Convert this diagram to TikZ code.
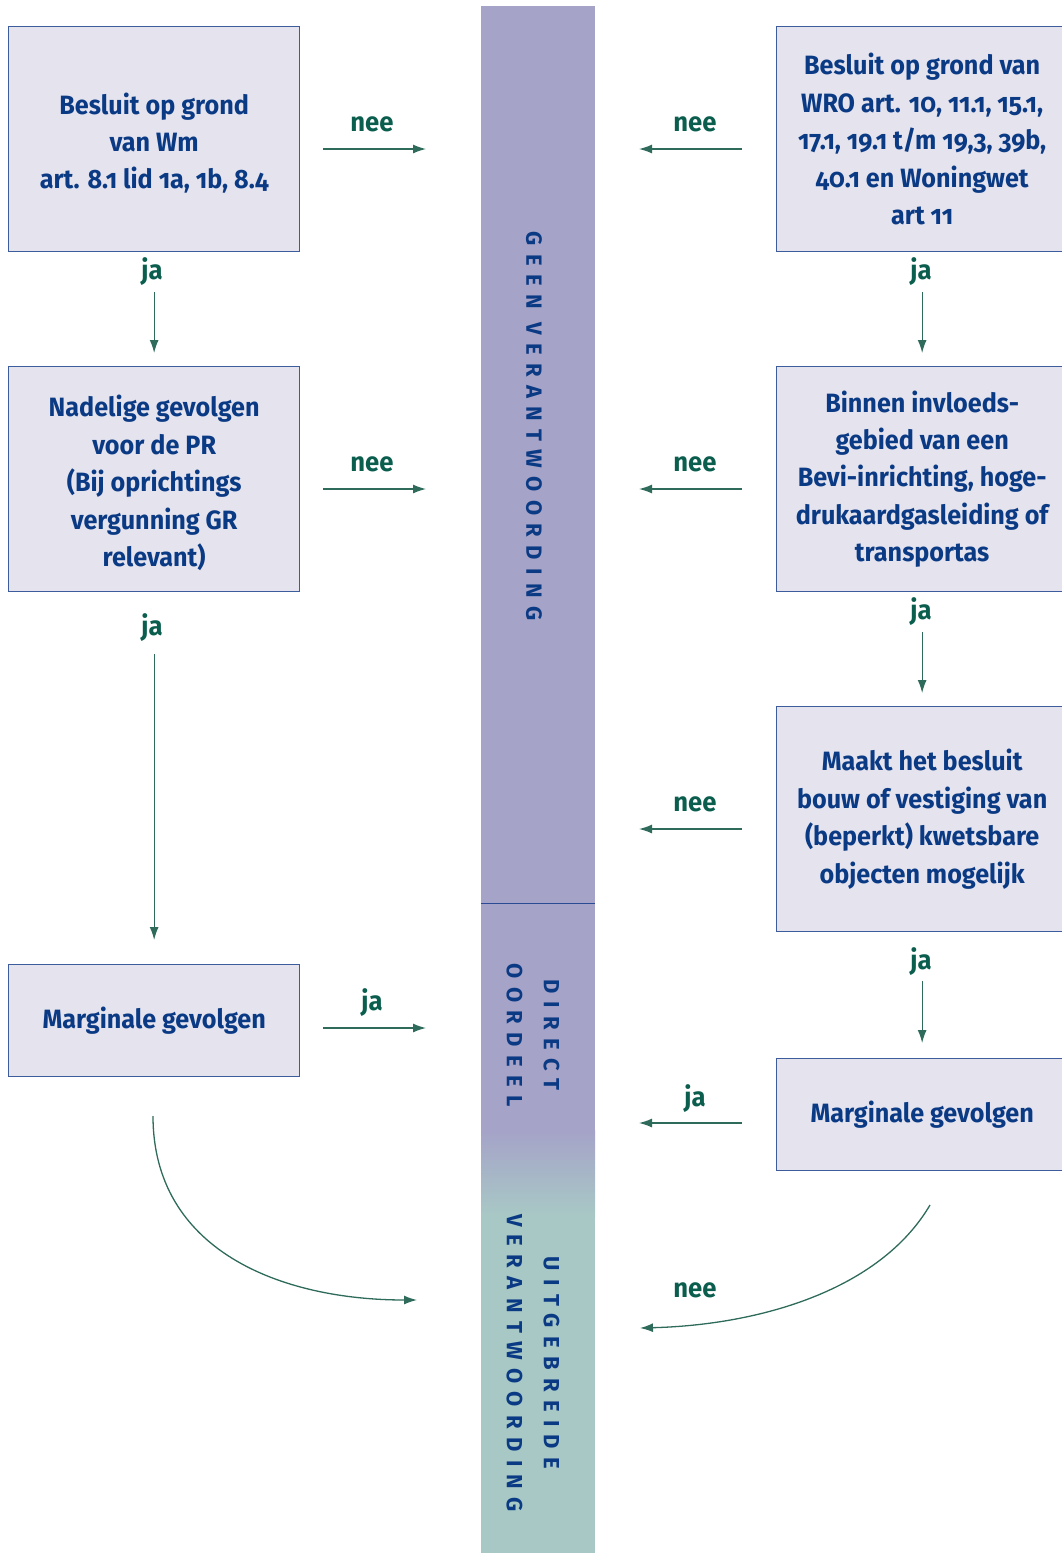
\documentclass[tikz,border=0pt]{standalone}
\usepackage{fontspec}
\setmainfont{Fira Sans}[Numbers=OldStyle, FakeStretch=0.95]
\newfontfamily\barfont{Fira Sans}[LetterSpace=38]
\usetikzlibrary{arrows.meta}
\definecolor{boxfill}{HTML}{E4E3EE}
\definecolor{boxdraw}{HTML}{3C5C9C}
\definecolor{textblue}{HTML}{0B3A84}
\definecolor{labgreen}{HTML}{0B5E4E}
\definecolor{arrowgreen}{HTML}{2E6B5B}
\definecolor{barpurple}{HTML}{A5A3C8}
\definecolor{barteal}{HTML}{A8C8C5}
\definecolor{divider}{HTML}{2B4A95}
\begin{document}
\begin{tikzpicture}[x=1pt,y=-1pt,
  box/.style={draw=boxdraw, line width=1.3pt, fill=boxfill, text=textblue,
    font=\fontsize{26.5}{37.4}\selectfont\bfseries, align=center,
    minimum width=291pt, inner sep=0pt, anchor=north west},
  tallbox/.style={box, minimum height=225pt},
  lowbox/.style={box, minimum height=112pt},
  lab/.style={text=labgreen, font=\fontsize{27}{30}\selectfont\bfseries, inner sep=0pt, anchor=base},
  arr/.style={draw=arrowgreen, line width=1.3pt, -{Latex[length=13pt,width=9pt]}},
  bartext/.style={text=textblue, font=\fontsize{22}{37}\selectfont\barfont\bfseries, align=center, rotate=-90, inner sep=0pt}
]
\useasboundingbox (0,0) rectangle (1062,1553);

% central bar
\fill[barpurple] (481,6) rectangle (595,1131);
\shade[top color=barpurple, bottom color=barteal] (481,1130) rectangle (595,1216);
\fill[barteal] (481,1215) rectangle (595,1553);
\draw[divider, line width=1pt] (481,903) -- (595,903);
\node[bartext] (t1) at (534,426) {GEEN VERANTWOORDING};
\node[bartext] (t2) at (533,1035) {DIRECT\\OORDEEL};
\node[bartext] (t3) at (533,1363) {UITGEBREIDE\\VERANTWOORDING};

% boxes
\node[tallbox] (L1) at (8,26) {\\[-8pt]Besluit op grond\\van Wm\\art. 8.1 lid 1a, 1b, 8.4};
\node[tallbox] (R1) at (776,26) {Besluit op grond van\\WRO art. 10, 11.1, 15.1,\\17.1, 19.1 t/m 19,3, 39b,\\40.1 en Woningwet\\art 11};
\node[tallbox] (L2) at (8,366) {\\[-8pt]Nadelige gevolgen\\voor de PR\\(Bij oprichtings\\vergunning GR\\relevant)};
\node[tallbox] (R2) at (776,366) {Binnen invloeds-\\gebied van een\\Bevi-inrichting, hoge-\\drukaardgasleiding of\\transportas};
\node[tallbox] (R3) at (776,706) {Maakt het besluit\\bouw of vestiging van\\(beperkt) kwetsbare\\objecten mogelijk};
\node[lowbox] (L3) at (8,964) {Marginale gevolgen};
\node[lowbox] (R4) at (776,1058) {Marginale gevolgen};

% arrow end points at the bar
\coordinate (a1) at (426,149);
\coordinate (b1) at (639,149);
\coordinate (a2) at (426,489);
\coordinate (b2) at (639,489);
\coordinate (b3) at (639,829);
\coordinate (a3) at (426,1028);
\coordinate (b4) at (639,1123);
\coordinate (a5) at (417,1300);
\coordinate (b5) at (640,1328);
\coordinate (s5) at (153,1116);
\coordinate (r5) at (930,1205);

% horizontal arrows
\draw[arr, shorten <=23pt] (L1.east |- a1) -- (a1);
\draw[arr, shorten <=34pt] (R1.west |- b1) -- (b1);
\draw[arr, shorten <=23pt] (L2.east |- a2) -- (a2);
\draw[arr, shorten <=34pt] (R2.west |- b2) -- (b2);
\draw[arr, shorten <=34pt] (R3.west |- b3) -- (b3);
\draw[arr, shorten <=23pt] (L3.east |- a3) -- (a3);
\draw[arr, shorten <=34pt] (R4.west |- b4) -- (b4);

% vertical arrows
\draw[arr, shorten <=40pt, shorten >=13pt] (L1.south) -- (L2.north);
\draw[arr, shorten <=62pt, shorten >=24pt] (L2.south) -- (L3.north);
\draw[arr, shorten <=40pt, shorten >=13pt] (R1.south) -- (R2.north);
\draw[arr, shorten <=40pt, shorten >=13pt] (R2.south) -- (R3.north);
\draw[arr, shorten <=49pt, shorten >=15pt] (R3.south) -- (R4.north);

% curved arrows
\draw[arr] (s5) .. controls (153,1250) and (280,1300) .. (a5);
\draw[arr] (r5) .. controls (880,1290) and (760,1325) .. (b5);

% labels
\node[lab] (n1) at (372,131) {nee};
\node[lab] (n2) at (695,131) {nee};
\node[lab] (j1) at (152,279) {ja};
\node[lab] (j2) at (921,279) {ja};
\node[lab] (n3) at (372,471) {nee};
\node[lab] (n4) at (695,471) {nee};
\node[lab] (j3) at (152,635) {ja};
\node[lab] (j4) at (921,619) {ja};
\node[lab] (n5) at (695,811) {nee};
\node[lab] (j5) at (921,969) {ja};
\node[lab] (j6) at (372,1010) {ja};
\node[lab] (j7) at (695,1106) {ja};
\node[lab] (n6) at (695,1297) {nee};
\end{tikzpicture}
\end{document}
